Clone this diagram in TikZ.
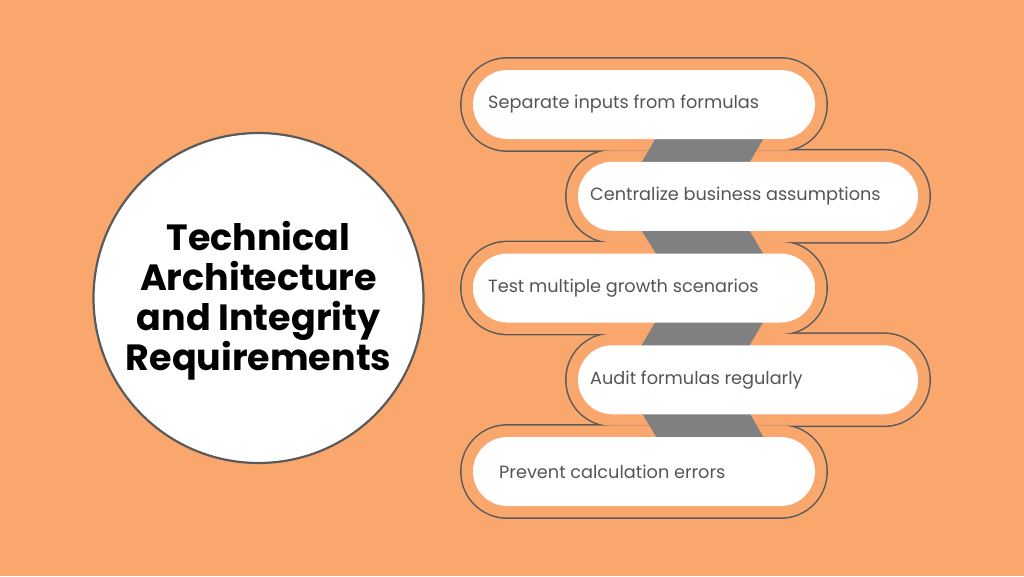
\documentclass[tikz,border=0pt]{standalone}
\usepackage{fontspec}
\setmainfont{Poppins}
\newfontfamily\titlefont{Poppins}[UprightFont=* Bold]
\definecolor{bg}{RGB}{250,167,110}
\definecolor{edge}{RGB}{90,90,90}
\definecolor{band}{RGB}{128,128,128}
\definecolor{txt}{RGB}{85,85,85}
\tikzset{
  outerpill/.style={rounded corners=45.5pt},
  pillbox/.style={fill=white, rounded corners=34.5pt},
  itemtext/.style={anchor=west, inner sep=0pt, text=txt, font=\fontsize{17.7}{22}\selectfont},
  bandshape/.style={fill=band, draw=none},
}
\begin{document}
\begin{tikzpicture}[x=1pt,y=-1pt]
\fill[bg] (0,0) rectangle (1024,576);
\useasboundingbox (0,0) rectangle (1024,576);
% circle
\node (hub) [circle, draw=edge, line width=2.2pt, fill=white, minimum size=330pt, inner sep=0pt] at (258.5,298) {};
\node (title) [align=center, font=\titlefont\fontsize{36.5}{40}\selectfont, text=black] at (258.5,300.5) {Technical\\Architecture\\and Integrity\\Requirements};
% outer outlines (drawn wide, then interiors filled orange -> union boundary)
\foreach \l/\r/\t in {473/815/70, 578/918/161.75, 473/815/253.5, 578/918/345.25, 473/815/437}{
  \draw[edge, line width=3pt, outerpill] (\l-11.4,\t-11.4) rectangle (\r+11.4,\t+69+11.4);
}
\foreach \l/\r/\t in {473/815/70, 578/918/161.75, 473/815/253.5, 578/918/345.25, 473/815/437}{
  \fill[bg, outerpill] (\l-11.4,\t-11.4) rectangle (\r+11.4,\t+69+11.4);
}
% connecting bands
\fill[bandshape] (657,136) -- (765,136) -- (748,165) -- (640,165) -- cycle;
\fill[bandshape] (640,228) -- (748,228) -- (765,257) -- (658,257) -- cycle;
\fill[bandshape] (657,319) -- (765,319) -- (748,348) -- (640,348) -- cycle;
\fill[bandshape] (640,410) -- (748,410) -- (765,440) -- (658,440) -- cycle;
% pills
\node (p1) [pillbox, minimum width=342pt, minimum height=69pt, inner sep=0pt] at (644,104.5) {};
\node (p2) [pillbox, minimum width=340pt, minimum height=69pt, inner sep=0pt] at (748,196.25) {};
\node (p3) [pillbox, minimum width=342pt, minimum height=69pt, inner sep=0pt] at (644,288) {};
\node (p4) [pillbox, minimum width=340pt, minimum height=69pt, inner sep=0pt] at (748,379.75) {};
\node (p5) [pillbox, minimum width=342pt, minimum height=69pt, inner sep=0pt] at (644,471.5) {};
\node (t1) [itemtext] at (488,104.5) {Separate inputs from formulas};
\node (t2) [itemtext] at (590,196.25) {Centralize business assumptions};
\node (t3) [itemtext] at (488,288) {Test multiple growth scenarios};
\node (t4) [itemtext] at (590,379.75) {Audit formulas regularly};
\node (t5) [itemtext] at (499,471.5) {Prevent calculation errors};
\end{tikzpicture}
\end{document}
